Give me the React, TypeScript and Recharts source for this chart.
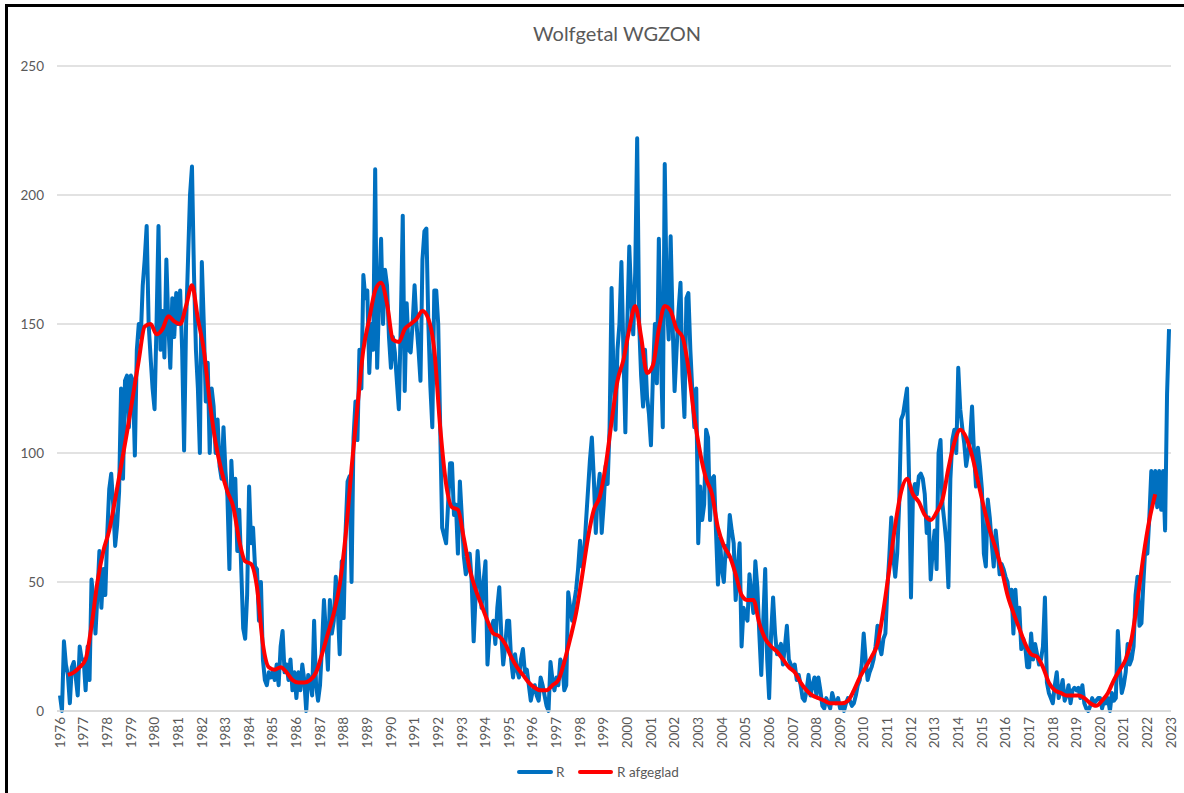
import { CartesianGrid, Line, LineChart, XAxis, YAxis } from "recharts";

const FIRST_YEAR = 1976;
const BLUE = "#0070C0";
const RED = "#FF0000";
const GREY = "#595959";
const FONT = "Lato, 'Open Sans', sans-serif";

// monthly Wolf number R, one row (Jan..Dec) per year
const cycle21 = [
  [6, 0, 27, 18, 14, 3, 17, 19, 13, 6, 25, 20], // 1976
  [20, 8, 25, 12, 51, 43, 30, 45, 62, 40, 55, 45],
  [69, 86, 92, 80, 64, 72, 85, 125, 90, 128, 130, 110],
  [130, 128, 99, 140, 150, 145, 165, 175, 188, 150, 137, 125],
  [117, 150, 188, 140, 155, 137, 175, 150, 133, 160, 145, 162], // 1980
  [150, 163, 140, 101, 150, 175, 200, 211, 170, 140, 125, 100],
  [174, 150, 120, 135, 100, 125, 118, 100, 113, 95, 90, 110],
  [93, 83, 55, 97, 80, 90, 62, 78, 55, 32, 28, 45],
  [87, 65, 71, 56, 55, 35, 50, 20, 12, 10, 15, 13],
  [15, 12, 18, 10, 25, 31, 15, 18, 12, 20, 8, 15],
  [5, 15, 8, 18, 12, 0, 14, 12, 6, 35, 10, 4], // 1986
];
const cycle22 = [
  [10, 25, 43, 30, 16, 43, 30, 35, 52, 40, 22, 58], // 1987
  [36, 70, 89, 91, 50, 106, 120, 105, 140, 125, 169, 160],
  [163, 131, 150, 140, 210, 133, 160, 183, 150, 171, 165, 145],
  [133, 145, 139, 128, 117, 150, 192, 124, 158, 140, 139, 150], // 1990
  [165, 150, 140, 128, 175, 186, 187, 150, 126, 110, 163, 163],
  [150, 110, 71, 68, 65, 80, 96, 96, 76, 80, 61, 89],
  [75, 60, 53, 55, 61, 50, 27, 45, 62, 50, 40, 50],
  [58, 18, 30, 32, 35, 26, 40, 48, 30, 18, 25, 35],
  [35, 20, 13, 22, 16, 13, 20, 24, 15, 16, 10, 4],
  [8, 10, 6, 4, 13, 10, 6, 2, 0, 19, 12, 8], // 1996
];
const cycle23 = [
  [13, 10, 20, 18, 8, 10, 46, 40, 35, 42, 47, 55], // 1997
  [66, 56, 60, 73, 85, 97, 106, 90, 69, 85, 92, 69],
  [80, 95, 88, 110, 164, 130, 109, 140, 150, 174, 140, 108],
  [150, 180, 160, 146, 170, 222, 150, 130, 118, 140, 122, 115], // 2000
  [103, 130, 150, 127, 183, 140, 110, 212, 160, 144, 184, 150],
  [124, 140, 155, 166, 130, 114, 160, 162, 140, 124, 110, 125],
  [65, 87, 74, 80, 109, 106, 74, 90, 91, 70, 49, 67],
  [55, 50, 64, 60, 76, 70, 65, 43, 55, 65, 25, 40],
  [37, 35, 53, 45, 38, 58, 48, 30, 14, 35, 55, 20],
  [5, 30, 44, 30, 22, 24, 26, 18, 25, 33, 20, 18],
  [16, 18, 12, 14, 10, 5, 4, 8, 14, 6, 10, 13],
  [6, 13, 8, 2, 1, 5, 3, 1, 7, 4, 3, 5], // 2008
];
const cycle24 = [
  [1, 2, 0, 3, 5, 4, 2, 3, 6, 10, 12, 18], // 2009
  [30, 20, 12, 15, 17, 20, 25, 33, 25, 22, 28, 30], // 2010
  [47, 60, 75, 60, 52, 61, 80, 113, 115, 120, 125, 91],
  [44, 84, 88, 84, 91, 92, 90, 84, 69, 75, 51, 62],
  [70, 55, 100, 105, 80, 73, 65, 48, 90, 105, 109, 100],
  [133, 117, 110, 104, 95, 100, 105, 118, 100, 87, 102, 95],
  [86, 61, 56, 82, 75, 65, 56, 70, 62, 53, 57, 55],
  [52, 50, 43, 47, 30, 47, 35, 40, 24, 28, 25, 17],
  [17, 30, 20, 26, 22, 18, 20, 25, 44, 11, 7, 5],
  [3, 10, 15, 5, 8, 12, 4, 6, 10, 3, 8, 9],
  [8, 9, 5, 10, 3, 1, 0, 2, 5, 3, 4, 5], // 2019
];
const cycle25 = [
  [5, 1, 4, 3, 5, 0, 7, 4, 5, 31, 17, 7], // 2020
  [10, 15, 26, 18, 20, 25, 45, 52, 33, 34, 50, 64],
  [61, 75, 93, 82, 93, 79, 93, 78, 93, 70, 123, 148], // 2022
];

// smoothed R, read every 3 months (Feb, May, Aug, Nov), first point May 1976
const SMOOTH_START = 4;
const SMOOTH_STEP = 3;
const smooth1976_1987 = [
  [14, 15, 17],
  [20, 33, 50, 62],
  [70, 82, 95, 108],
  [122, 136, 149, 150],
  [146, 148, 153, 151],
  [150, 157, 165, 152],
  [140, 120, 104, 93],
  [85, 79, 66, 58],
  [57, 48, 26, 17],
  [16, 17, 15, 12],
  [11, 11, 12, 15],
  [22, 30, 38, 49],
];
const smooth1988_1999 = [
  [68, 94, 118, 140],
  [152, 163, 166, 158],
  [144, 143, 148, 150],
  [152, 155, 152, 140],
  [110, 88, 79, 78],
  [67, 55, 47, 41],
  [35, 30, 29, 26],
  [21, 17, 14, 11],
  [9, 8, 8, 10],
  [12, 19, 28, 38],
  [52, 67, 78, 83],
  [95, 112, 128, 136],
];
const smooth2000_2011 = [
  [148, 157, 145, 131],
  [134, 148, 157, 155],
  [148, 145, 133, 114],
  [100, 90, 84, 71],
  [64, 60, 53, 45],
  [43, 43, 34, 28],
  [25, 23, 20, 17],
  [15, 11, 8, 6],
  [5, 4, 3, 3],
  [3, 4, 8, 13],
  [17, 21, 26, 39],
  [55, 72, 85, 90],
];
const smooth2012_2022 = [
  [84, 81, 76, 74],
  [77, 82, 94, 104],
  [109, 106, 99, 89],
  [79, 70, 63, 55],
  [45, 38, 32, 26],
  [22, 21, 17, 11],
  [8, 7, 6, 6],
  [6, 5, 3, 2],
  [4, 7, 12, 16],
  [20, 28, 43, 60],
  [74, 84],
];

const yTicks = [0, 50, 100, 150, 200, 250];

const monthly = [...cycle21, ...cycle22, ...cycle23, ...cycle24, ...cycle25].flat();
const smooth = [...smooth1976_1987, ...smooth1988_1999, ...smooth2000_2011, ...smooth2012_2022].flat();

// one extra category (Jan 2023) so the axis ends on the 2023 label
const rows = Array.from({ length: monthly.length + 1 }, (_, i) => {
  const year = FIRST_YEAR + Math.floor(i / 12);
  const month = String((i % 12) + 1).padStart(2, "0");
  const k = (i - SMOOTH_START) / SMOOTH_STEP;
  const rs = i >= SMOOTH_START && Number.isInteger(k) && k < smooth.length ? smooth[k] : null;
  return { t: `${year}-${month}`, R: i < monthly.length ? monthly[i] : null, Rs: rs };
});

function YearTick(props: any) {
  const { x, y, payload } = props;
  return (
    <text
      x={x}
      y={y}
      dy="0.35em"
      transform={`rotate(-90, ${x}, ${y})`}
      textAnchor="end"
      fill={GREY}
      fontSize={13.5}
      fontFamily={FONT}
    >
      {String(payload.value).slice(0, 4)}
    </text>
  );
}

export default function App() {
  return (
    <div
      style={{
        position: "absolute",
        left: 0,
        top: 0,
        width: 1184,
        height: 793,
        overflow: "hidden",
        background: "#fff",
        fontFamily: FONT,
      }}
    >
      <div
        style={{
          position: "absolute",
          left: 5,
          top: 4,
          width: 1200,
          height: 820,
          border: "3px solid #000",
        }}
      />
      <div
        style={{
          position: "absolute",
          top: 21,
          left: 617,
          transform: "translateX(-50%)",
          fontSize: 20,
          color: GREY,
          whiteSpace: "nowrap",
        }}
      >
        Wolfgetal WGZON
      </div>

      <div style={{ position: "absolute", left: 0, top: 0 }}>
        <LineChart width={1184} height={793} data={rows} margin={{ top: 66, right: 13, bottom: 37, left: 0 }}>
          <CartesianGrid vertical={false} stroke="#d9d9d9" strokeWidth={1.3} />
          <XAxis
            dataKey="t"
            interval={11}
            tickLine={false}
            tickSize={0}
            tickMargin={6}
            height={45}
            axisLine={{ stroke: "#d9d9d9", strokeWidth: 1.3 }}
            padding={{ left: 3, right: 0 }}
            tick={<YearTick />}
          />
          <YAxis
            domain={[0, 250]}
            ticks={yTicks}
            width={57}
            axisLine={false}
            tickLine={false}
            tickMargin={7}
            tick={{ fill: GREY, fontSize: 13.5, fontFamily: FONT }}
          />
          <Line
            dataKey="R"
            type="linear"
            stroke={BLUE}
            strokeWidth={4}
            strokeLinejoin="round"
            dot={false}
            isAnimationActive={false}
          />
          <Line
            dataKey="Rs"
            type="monotone"
            stroke={RED}
            strokeWidth={4}
            dot={false}
            connectNulls
            isAnimationActive={false}
          />
        </LineChart>
      </div>

      <div style={{ position: "absolute", left: 517, top: 770, width: 36, height: 4, background: BLUE, borderRadius: 2 }} />
      <div style={{ position: "absolute", left: 556, top: 764, fontSize: 13.5, lineHeight: "16px", color: GREY }}>R</div>
      <div style={{ position: "absolute", left: 578, top: 770, width: 35, height: 4, background: RED, borderRadius: 2 }} />
      <div style={{ position: "absolute", left: 617, top: 764, fontSize: 13.5, lineHeight: "16px", color: GREY }}>
        R afgeglad
      </div>
    </div>
  );
}
